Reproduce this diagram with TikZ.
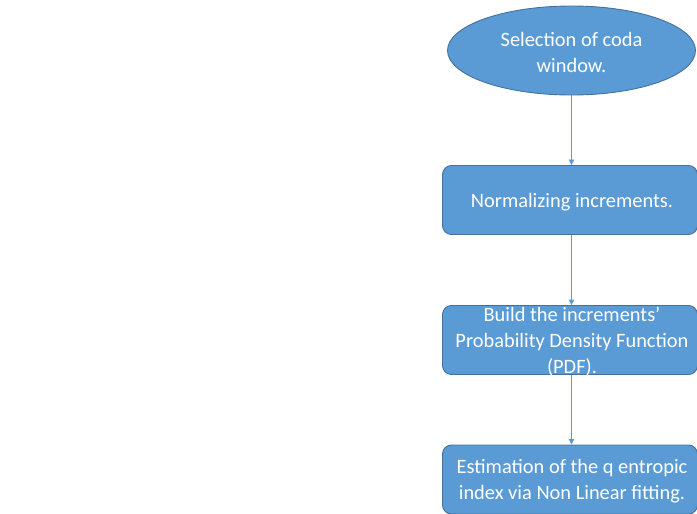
\documentclass[tikz,border=0pt]{standalone}
\usepackage{fontspec}
\setmainfont{Carlito}
\usetikzlibrary{shapes.geometric,arrows.meta}
\definecolor{stepfill}{HTML}{5B9BD5}
\definecolor{stepline}{HTML}{41719C}
\tikzset{
  steptext/.style={text=white, align=center, inner sep=0pt,
    font=\fontsize{20.4}{26}\selectfont, yshift=-2pt},
  boxtext/.style={steptext, xshift=2pt},
  stepbox/.style={draw=stepline, line width=0.9pt, fill=stepfill, rounded corners=9pt,
    minimum width=255pt, minimum height=69pt, inner sep=0pt},
  startoval/.style={ellipse, draw=stepline, line width=0.9pt, fill=stepfill,
    minimum width=248pt, minimum height=89pt, inner sep=0pt},
  flowarrow/.style={draw=stepfill, line width=0.8pt, -{Triangle[width=5.5pt,length=5.5pt]}}
}
\begin{document}
\begin{tikzpicture}[x=1pt,y=-1pt]
  \useasboundingbox (0,0) rectangle (697,514);
  % process shapes, with their texts set as centred labels
  \node[startoval, label={[steptext]center:Selection of coda\\window.}] (sel) at (571.5,50.5) {};
  \node[stepbox, label={[boxtext]center:Normalizing increments.}] (norm) at (570,200) {};
  \node[stepbox, label={[boxtext]center:Build the increments’\\Probability Density Function\\(PDF).}] (pdf) at (570,340) {};
  \node[stepbox, label={[boxtext]center:Estimation of the q entropic\\index via Non Linear fitting.}] (est) at (570,479.5) {};
  % vertical connectors
  \draw[flowarrow] (sel.south) -- (sel.south |- norm.north);
  \draw[flowarrow] (sel.south |- norm.south) -- (sel.south |- pdf.north);
  \draw[flowarrow] (sel.south |- pdf.south) -- (sel.south |- est.north);
\end{tikzpicture}
\end{document}
